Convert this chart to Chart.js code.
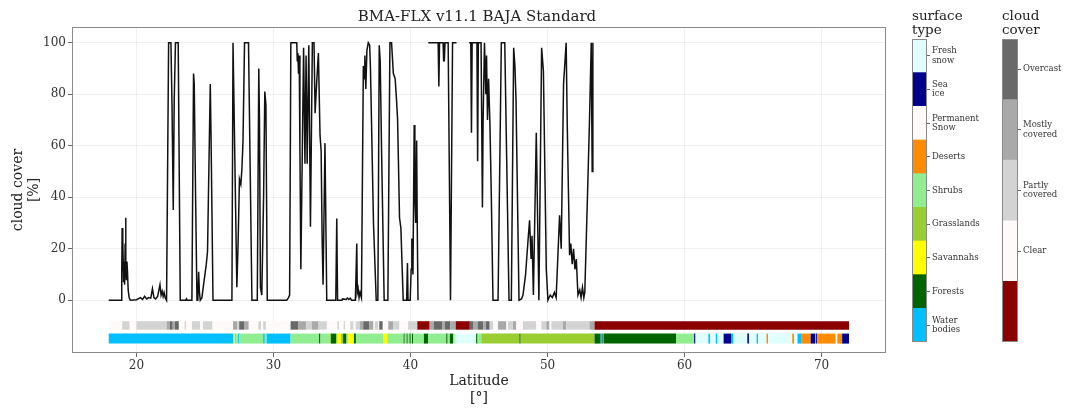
<!DOCTYPE html>
<html><head><meta charset="utf-8">
<script src="https://cdn.jsdelivr.net/npm/chart.js@4.4.1/dist/chart.umd.min.js"></script>
<style>
html,body{margin:0;padding:0;background:#fff;}
#wrap{position:relative;width:1074px;height:412px;overflow:hidden;background:#fff;}
canvas{position:absolute;top:0;}
</style></head><body>
<div id="wrap">
<canvas id="main" width="954" height="412" style="left:0px"></canvas>
<canvas id="surf" width="90" height="412" style="left:912px"></canvas>
<canvas id="cloudbar" width="72" height="412" style="left:1002px"></canvas>
</div>
<script>
// ---------------- data ----------------
const chartTitle = 'BMA-FLX v11.1 BAJA Standard';
const latitude = [
17.98,18.9,18.93,18.96,18.99,19.02,19.06,19.1,19.14,19.18,19.21,19.24,19.27,19.31,19.35,19.4,19.47,19.55,
20.0,20.3,20.45,20.6,20.75,20.9,21.05,21.17,21.28,21.4,21.55,21.72,21.8,21.88,21.95,22.02,22.1,22.2,
22.35,22.52,22.6,22.69,22.76,22.85,23.05,23.2,23.6,23.65,23.7,24.05,24.17,24.22,24.32,24.42,24.48,24.54,24.6,24.66,24.78,24.95,25.1,25.19,25.39,25.45,25.59,
26.97,27.05,27.12,27.33,27.42,27.52,27.62,27.7,27.78,27.89,28.18,28.43,28.82,28.93,28.98,29.05,29.15,29.28,29.37,29.45,29.55,
30.97,31.1,31.18,31.27,31.7,31.74,31.78,31.83,31.88,31.93,32.0,32.2,32.3,32.38,32.46,32.58,32.7,32.84,32.96,33.04,33.16,33.28,33.4,33.48,33.55,33.62,33.76,33.89,
34.55,34.62,34.68,35.0,35.05,35.3,35.4,35.5,35.6,35.7,35.98,36.08,36.12,36.18,36.25,36.32,36.42,36.56,36.62,36.67,36.74,36.82,36.92,37.02,37.08,37.3,37.5,37.62,37.72,37.79,37.9,38.08,38.35,38.5,38.62,38.75,38.88,38.98,39.06,39.12,39.2,39.3,39.47,39.72,39.78,39.82,39.98,40.05,40.1,40.18,40.27,40.32,40.38,40.45,40.5,40.55,40.9,
41.3,42.02,42.07,42.12,42.38,42.42,42.47,42.52,42.75,42.92,43.07,43.36,43.8,
44.28,44.4,44.45,44.5,44.85,44.9,44.95,45.15,45.25,45.3,45.4,45.5,45.55,45.62,45.7,45.8,45.9,46.02,46.39,46.63,46.88,47.19,47.36,47.53,47.62,47.7,47.92,48.1,48.21,48.4,48.57,48.69,48.8,48.87,48.97,49.18,49.37,49.57,49.7,49.78,49.91,50.03,50.2,50.35,50.5,50.63,50.88,51.0,51.17,51.36,51.44,51.61,51.7,51.8,51.9,52.0,52.1,52.22,52.35,52.45,52.55,52.65,52.72,52.95,53.07,53.19,53.26,53.31
];
const cloudCover = [
0,0,10,28,12,24,7,15,6,22,32,12,8,15,11,4,1,0,
0.2,1,0.3,1.5,0.5,1,0.8,4.5,1,0.5,1.5,6,2,3.5,1.5,3,1,0,
100,100,75,35,78,100,100,0,0,0.5,0,0,88,84,40,0,0,11,3,0,1,8,14,19,84,62,0,
0,100,100,5,22,47,45,51,62,100,100,0,0,90,70,5,2,40,81,76,0,
0,1,2,100,100,93,96,88,95,60,12,98,53,95,53,99,28.5,100,100,72.6,85,96,64,58,25,6,61,0,
0,31.7,0,0,0.5,0.3,0.8,0.3,0.8,0,0,22,3,4.5,1,3,1,91,86,95,82,97,100,99,90,30,0,0,99,93,55,0,0,100,100,88,86,78,70,54,32,28,0,0,14.4,0,0,12,24,10,68,40,30,62,25,0,null,
100,100,83,100,100,93,93,100,100,0,100,100,null,
100,100,65,100,100,54,100,100,36,70,100,80,95,70,86,68,40,0,0,100,100,0,0,98,91,78,0,0.5,2,10,22.7,31,16,25,2,65,0,98,89,60,12,0,2,1,3,1,33,20,84,100,68,17.5,22,14,20,12,16,2,4,1,5,1,3,47,71,100,50,100
];
const xTicks = [20,30,40,50,60,70];
const yTicks = [0,20,40,60,80,100];

// surface type classes (top to bottom as in the colour bar)
const surfaceNames = ['Fresh snow','Sea ice','Permanent Snow','Deserts','Shrubs','Grasslands','Savannahs','Forests','Water bodies'];
const surfaceColors = ['#e0ffff','#00008b','#fffafa','#ff8c00','#90ee90','#9acd32','#ffff00','#006400','#00bfff'];
// strip along latitude: segment start latitudes (+ final end) and class index
const surfaceBounds = [17.98,27.09,27.16,27.22,27.28,27.42,27.52,29.25,29.37,29.5,31.25,33.33,33.43,34.1,34.2,34.57,34.68,34.93,35.08,35.33,35.45,35.83,35.88,36.02,38.0,38.3,39.5,39.58,39.72,39.8,39.93,40.02,40.11,40.2,40.98,41.29,42.61,42.71,42.87,43.11,43.23,44.79,44.89,45.17,47.95,48.04,53.43,53.88,53.97,54.03,54.12,59.38,60.7,60.8,61.74,61.86,62.28,62.4,62.85,63.39,63.56,64.58,64.7,65.26,65.37,65.98,66.1,67.86,68.0,68.24,68.55,69.2,69.53,69.6,69.68,71.03,71.15,71.5,72.0];
const surfaceCodes  = [8,6,4,3,4,8,4,8,4,8,4,7,4,5,7,5,6,5,7,4,6,4,7,4,6,4,7,4,7,4,7,4,7,4,7,4,7,4,7,4,0,7,4,5,7,5,7,8,7,8,7,4,1,0,8,0,8,0,1,8,0,1,0,8,0,3,0,3,0,8,3,1,3,1,3,0,3,1];

// cloud cover classes (top to bottom as in the colour bar; last = no data)
const cloudNames = ['Overcast','Mostly covered','Partly covered','Clear',''];
const cloudColors = ['#696969','#a9a9a9','#d3d3d3','#fffafa','#8b0000'];
const cloudBounds = [17.98,18.96,19.51,20.0,22.2,22.45,22.65,22.8,23.1,23.52,23.62,24.05,24.66,24.86,25.55,27.05,27.35,27.5,27.85,28.2,28.9,29.1,29.25,29.45,31.25,31.8,32.4,32.8,33.25,33.9,34.66,34.78,35.12,35.22,35.6,35.85,36.0,36.3,36.55,37.0,37.3,37.4,37.65,37.72,37.98,38.38,38.75,39.2,39.83,40.5,41.4,41.7,42.3,42.5,42.9,43.3,44.33,44.6,44.9,45.3,45.5,45.78,46.03,46.39,47.0,47.12,47.48,47.72,48.21,49.18,49.55,49.91,50.15,50.28,51.13,51.37,53.07,53.43,72.0];
const cloudCodes  = [3,2,3,2,1,0,1,0,3,2,3,2,3,2,3,1,2,0,1,3,2,3,2,3,0,1,2,1,2,3,2,3,2,3,2,3,2,1,0,1,3,2,3,0,3,1,2,3,2,4,1,0,1,0,1,4,0,1,0,1,0,2,3,1,3,2,1,3,2,3,2,1,3,2,1,2,1,4];

// ---------------- drawing ----------------
const serif = "'DejaVu Serif', serif";
Chart.defaults.font.family = serif;
Chart.defaults.color = '#333';

const framePlugin = {
  id: 'frame',
  afterDraw(chart) {
    const a = chart.chartArea, c = chart.ctx;
    c.save();
    c.strokeStyle = '#8a8a8a';
    c.lineWidth = 1;
    c.strokeRect(Math.round(a.left) + 0.5, Math.round(a.top) + 0.5,
                 Math.round(a.right - a.left) - 1, Math.round(a.bottom - a.top) - 1);
    c.restore();
  }
};

function stripPoints(bounds, y) { return bounds.map(b => ({x: b, y: y})); }

new Chart(document.getElementById('main'), {
  type: 'scatter',
  data: {
    datasets: [
      {
        data: latitude.map((x, i) => ({x: x, y: cloudCover[i]})),
        showLine: true, borderColor: '#111', borderWidth: 1.5, pointRadius: 0,
        spanGaps: false, tension: 0
      },
      {
        data: stripPoints(cloudBounds, -9.8),
        showLine: true, borderWidth: 8.5, borderCapStyle: 'butt', pointRadius: 0,
        borderColor: cloudColors[3],
        segment: { borderColor: ctx => cloudColors[cloudCodes[ctx.p0DataIndex]] }
      },
      {
        data: stripPoints(surfaceBounds, -14.9),
        showLine: true, borderWidth: 10, borderCapStyle: 'butt', pointRadius: 0,
        borderColor: surfaceColors[8],
        segment: { borderColor: ctx => surfaceColors[surfaceCodes[ctx.p0DataIndex]] }
      }
    ]
  },
  options: {
    responsive: false, animation: false, events: [],
    layout: { padding: 0 },
    plugins: {
      legend: { display: false }, tooltip: { enabled: false },
      title: { display: true, text: chartTitle, color: '#222',
               font: { size: 15, weight: 'normal', lineHeight: 1.2 }, padding: { top: 8, bottom: 1 } }
    },
    scales: {
      x: {
        type: 'linear', min: 15.3, max: 74.7,
        afterBuildTicks: s => { s.ticks = xTicks.map(v => ({value: v})); },
        afterFit: s => { s.height = 59; },
        ticks: { font: { size: 12 }, color: '#333', padding: 2, callback: v => String(v) },
        grid: { color: 'rgba(0,0,0,0.06)', tickColor: '#666', tickLength: 4 },
        border: { display: false },
        title: { display: true, text: ['Latitude', '[°]'], color: '#222',
                 font: { size: 14, lineHeight: 1.2 }, padding: { top: 0, bottom: 5 } }
      },
      y: {
        type: 'linear', min: -20.5, max: 106.1,
        afterBuildTicks: s => { s.ticks = yTicks.map(v => ({value: v})); },
        afterFit: s => { s.width = 72; },
        ticks: { font: { size: 12 }, color: '#333', padding: 2, callback: v => String(v) },
        grid: { color: 'rgba(0,0,0,0.06)', tickColor: '#666', tickLength: 4 },
        border: { display: false },
        title: { display: true, text: ['cloud cover', '[%]'], color: '#222',
                 font: { size: 14, lineHeight: 1.2 }, padding: { top: 9.5, bottom: 0 } }
      },
      y2: {
        type: 'linear', position: 'right', display: true,
        afterFit: s => { s.width = 68; },
        ticks: { display: false }, grid: { display: false }, border: { display: false }
      }
    }
  },
  plugins: [framePlugin]
});

function colorbar(id, names, colors, titleLines, axisWidth) {
  const n = colors.length;
  const order = colors.map((c, i) => i).reverse(); // bottom to top
  const tickIdx = order.filter(i => names[i] !== '');
  new Chart(document.getElementById(id), {
    type: 'bar',
    data: {
      labels: [''],
      datasets: order.map(i => ({ data: [1], backgroundColor: colors[i], borderWidth: 0,
                                   barPercentage: 1, categoryPercentage: 1 }))
    },
    options: {
      responsive: false, animation: false, events: [],
      layout: { padding: { left: 0, right: 0, top: 0, bottom: 70 } },
      plugins: {
        legend: { display: false }, tooltip: { enabled: false },
        title: { display: true, text: titleLines, align: 'start', color: '#222',
                 font: { size: 13.5, weight: 'normal', lineHeight: 1.05 }, padding: { top: 9, bottom: 1.6 } }
      },
      scales: {
        x: { stacked: true, display: false },
        y: {
          stacked: true, position: 'right', min: 0, max: n,
          afterFit: s => { s.width = axisWidth; },
          afterBuildTicks: s => { s.ticks = tickIdx.map(i => ({ value: n - i - 0.5 })); },
          ticks: { autoSkip: false, font: { size: 8.5, lineHeight: 1.1 }, color: '#333', padding: 2,
                   callback: (v, k) => names[tickIdx[k]].split(' ') },
          grid: { drawOnChartArea: false, drawTicks: true, tickLength: 3, tickColor: '#666' },
          border: { display: false }
        }
      }
    },
    plugins: [framePlugin]
  });
}

colorbar('surf', surfaceNames, surfaceColors, ['surface', 'type'], 75);
colorbar('cloudbar', cloudNames, cloudColors, ['cloud', 'cover'], 56);
</script>
</body></html>
